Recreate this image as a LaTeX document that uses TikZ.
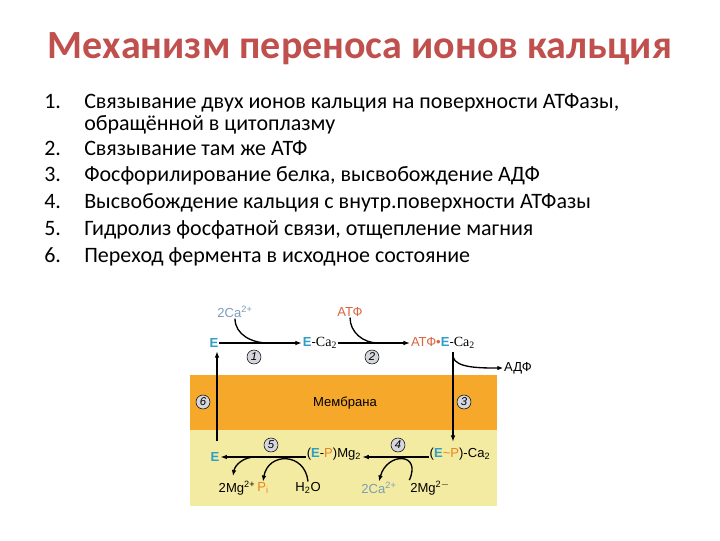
\documentclass[tikz,border=0pt]{standalone}
\usepackage{fontspec}
\setmainfont{Carlito}
\newfontfamily\arialf{Liberation Sans}
\newfontfamily\timesf{Liberation Serif}
\usetikzlibrary{arrows.meta}
\definecolor{titlered}{HTML}{C0504D}
\definecolor{memb}{HTML}{F6A82A}
\definecolor{cyto}{HTML}{F4EBA2}
\definecolor{ecol}{HTML}{2E9FC6}
\definecolor{pcol}{HTML}{E8861E}
\definecolor{atfcol}{HTML}{D9643F}
\definecolor{cacol}{HTML}{7B9DBA}
\definecolor{circ}{HTML}{D5D6DE}
\newcommand{\Eb}{\textcolor{ecol}{\bfseries E}}
\newcommand{\CaS}{{\timesf\fontsize{10.5}{11}\selectfont Ca\textsubscript{2}}}
\tikzset{
  lab/.style={font=\arialf\fontsize{9.8}{11}\selectfont, inner sep=0.5pt},
  numc/.style={circle, draw, thin, fill=circ, inner sep=0pt, minimum size=10.5pt, font=\arialf\itshape\fontsize{8.5}{9}\selectfont},
  mainarr/.style={-{Latex[length=5pt,width=3.5pt]}, line width=1.4pt},
  curv/.style={line width=1pt},
  curvarr/.style={line width=1pt, -{Latex[length=4.5pt,width=3.5pt]}},
  item/.style={anchor=base west, inner sep=0pt, font=\fontsize{16.5}{19}\selectfont},
}
\begin{document}
\begin{tikzpicture}[x=0.75pt,y=-0.75pt]
\useasboundingbox (0,0) rectangle (720,540);
% title
\node[anchor=base, inner sep=0pt, text=titlered, font=\bfseries\fontsize{30}{34}\selectfont] (title) at (360,58) {Механизм переноса ионов кальция};
% list
\node[item] (n1) at (44,108) {1.};
\node[item] (t1) at (84,108) {Связывание двух ионов кальция на поверхности АТФазы,};
\node[item] (t1b) at (84,130) {обращённой в цитоплазму};
\node[item] (n2) at (44,155) {2.};
\node[item] (t2) at (84,155) {Связывание там же АТФ};
\node[item] (n3) at (44,181) {3.};
\node[item] (t3) at (84,181) {Фосфорилирование белка, высвобождение АДФ};
\node[item] (n4) at (44,208) {4.};
\node[item] (t4) at (84,208) {Высвобождение кальция с внутр.поверхности АТФазы};
\node[item] (n5) at (44,235) {5.};
\node[item] (t5) at (84,235) {Гидролиз фосфатной связи, отщепление магния};
\node[item] (n6) at (44,262) {6.};
\node[item] (t6) at (84,262) {Переход фермента в исходное состояние};
% bands
\fill[cyto] (190,430) rectangle (497,506);
\fill[memb] (190,375) rectangle (497,430);
\node[lab] (memb) at (345,403) {Мембрана};
% top row
\node[lab] (E1) at (214,343) {\Eb};
\node[lab] (ECa) at (320,343) {\Eb-\CaS};
\node[lab] (ATFE) at (443,343) {\textcolor{atfcol}{АТФ•}\Eb-\CaS};
\node[lab, text=cacol] (ca1) at (235,312) {2Ca\textsuperscript{2+}};
\node[lab, text=atfcol] (atf) at (350,312) {АТФ};
\node[lab] (adp) at (518,368) {АДФ};
\draw[mainarr] (E1.east) -- (ECa.west);
\draw[mainarr] (ECa.east) -- (ATFE.west);
\coordinate (m1) at (268,343);
\draw[curv] (ca1.south) to[out=-90,in=180] (m1);
\coordinate (m2) at (378,343);
\draw[curv] (atf.south) to[out=-90,in=180] (m2);
\node[numc] (c1) at (254,357) {1};
\node[numc] (c2) at (372,357) {2};
% lower row
\node[lab] (E2) at (215,457) {\Eb};
\node[lab] (EPMg) at (334,454) {(\Eb-\textcolor{pcol}{P})Mg\textsubscript{2}};
\node[lab] (EPCa) at (460,454) {(\Eb\textcolor{pcol}{\textasciitilde P})-Ca\textsubscript{2}};
\node[numc] (c3) at (464,402) {3};
\node[numc] (c6) at (203,402) {6};
\node[numc] (c4) at (398,445) {4};
\node[numc] (c5) at (271,445) {5};
% vertical arrows
\coordinate (v3) at (453,352);
\draw[mainarr] (v3) -- (453,442);
\coordinate (v3b) at (453,357);
\draw[curvarr] (v3b) .. controls (456,368) and (480,368) .. (adp.west);
\coordinate (v6) at (217,441);
\draw[mainarr] (v6) -- (217,351);
% lower arrows
\draw[mainarr] (EPCa.west |- 0,457) -- (EPMg.east |- 0,457);
\draw[mainarr] (EPMg.west |- 0,457) -- (E2.east |- 0,457);
% bottom labels
\node[lab] (mg5) at (237,488) {2Mg\textsuperscript{2+}};
\node[lab, text=pcol] (pi) at (263,488) {P\textsubscript{i}};
\node[lab] (h2o) at (308,488) {H\textsubscript{2}O};
\node[lab, text=cacol] (ca4) at (379,488) {2Ca\textsuperscript{2+}};
\node[lab] (mg4) at (430,488) {2Mg\textsuperscript{2$-$}};
% curves lower
\draw[curvarr] (h2o.north) .. controls (305,452) and (268,452) .. (pi.north);
\coordinate (m5) at (255,457);
\draw[curvarr] (m5) to[out=180,in=80] (233,476);
\draw[curvarr] (mg4.north west) .. controls (422,452) and (387,452) .. (ca4.north);
\end{tikzpicture}
\end{document}
